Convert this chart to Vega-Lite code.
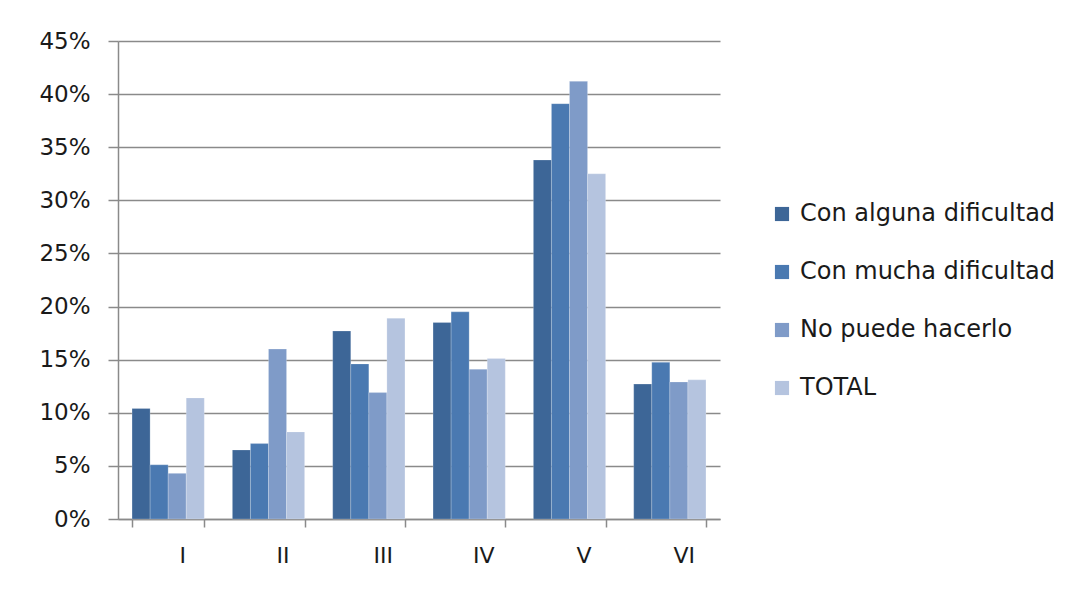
{
  "$schema": "https://vega.github.io/schema/vega-lite/v6.json",
  "autosize": {"type": "none"},
  "width": 602,
  "height": 478,
  "padding": {"left": 118, "top": 41, "right": 365, "bottom": 79},
  "background": "white",
  "data": {
    "values": [
      {"grupo": "I", "serie": "Con alguna dificultad", "valor": 0.104},
      {"grupo": "I", "serie": "Con mucha dificultad", "valor": 0.051},
      {"grupo": "I", "serie": "No puede hacerlo", "valor": 0.043},
      {"grupo": "I", "serie": "TOTAL", "valor": 0.114},
      {"grupo": "II", "serie": "Con alguna dificultad", "valor": 0.065},
      {"grupo": "II", "serie": "Con mucha dificultad", "valor": 0.071},
      {"grupo": "II", "serie": "No puede hacerlo", "valor": 0.160},
      {"grupo": "II", "serie": "TOTAL", "valor": 0.082},
      {"grupo": "III", "serie": "Con alguna dificultad", "valor": 0.177},
      {"grupo": "III", "serie": "Con mucha dificultad", "valor": 0.146},
      {"grupo": "III", "serie": "No puede hacerlo", "valor": 0.119},
      {"grupo": "III", "serie": "TOTAL", "valor": 0.189},
      {"grupo": "IV", "serie": "Con alguna dificultad", "valor": 0.185},
      {"grupo": "IV", "serie": "Con mucha dificultad", "valor": 0.195},
      {"grupo": "IV", "serie": "No puede hacerlo", "valor": 0.141},
      {"grupo": "IV", "serie": "TOTAL", "valor": 0.151},
      {"grupo": "V", "serie": "Con alguna dificultad", "valor": 0.338},
      {"grupo": "V", "serie": "Con mucha dificultad", "valor": 0.391},
      {"grupo": "V", "serie": "No puede hacerlo", "valor": 0.412},
      {"grupo": "V", "serie": "TOTAL", "valor": 0.325},
      {"grupo": "VI", "serie": "Con alguna dificultad", "valor": 0.127},
      {"grupo": "VI", "serie": "Con mucha dificultad", "valor": 0.1475},
      {"grupo": "VI", "serie": "No puede hacerlo", "valor": 0.129},
      {"grupo": "VI", "serie": "TOTAL", "valor": 0.131}
    ]
  },
  "mark": {"type": "bar", "stroke": "white", "strokeOpacity": 0.35, "strokeWidth": 0.6},
  "encoding": {
    "x": {
      "field": "grupo",
      "type": "nominal",
      "sort": ["I", "II", "III", "IV", "V", "VI"],
      "scale": {"paddingInner": 0.28, "paddingOuter": 0.14},
      "axis": {
        "title": null,
        "labelAngle": 0,
        "labelFont": "DejaVu Sans",
        "labelFontSize": 22,
        "labelColor": "#1a1a1a",
        "labelOffset": 14,
        "labelPadding": 18,
        "tickBand": "extent",
        "tickSize": 8,
        "tickColor": "#8a8a8a",
        "tickWidth": 1.5,
        "domainColor": "#8a8a8a",
        "domainWidth": 1.5,
        "grid": false
      }
    },
    "xOffset": {
      "field": "serie",
      "type": "nominal",
      "sort": ["Con alguna dificultad", "Con mucha dificultad", "No puede hacerlo", "TOTAL"],
      "scale": {"paddingInner": 0, "paddingOuter": 0}
    },
    "y": {
      "field": "valor",
      "type": "quantitative",
      "scale": {"domain": [0, 0.45], "nice": false},
      "axis": {
        "title": null,
        "format": ".0%",
        "values": [0, 0.05, 0.1, 0.15, 0.2, 0.25, 0.3, 0.35, 0.4, 0.45],
        "labelFont": "DejaVu Sans",
        "labelFontSize": 23,
        "labelColor": "#1a1a1a",
        "labelPadding": 18,
        "tickSize": 10,
        "tickColor": "#8a8a8a",
        "tickWidth": 1.5,
        "domainColor": "#8a8a8a",
        "domainWidth": 1.5,
        "grid": true,
        "gridColor": "#8a8a8a",
        "gridWidth": 1.5
      }
    },
    "color": {
      "field": "serie",
      "type": "nominal",
      "sort": ["Con alguna dificultad", "Con mucha dificultad", "No puede hacerlo", "TOTAL"],
      "scale": {
        "domain": ["Con alguna dificultad", "Con mucha dificultad", "No puede hacerlo", "TOTAL"],
        "range": ["#3D6697", "#4A79B1", "#7F9BC8", "#B5C4DF"]
      },
      "legend": {
        "title": null,
        "orient": "none",
        "legendX": 652,
        "legendY": 161,
        "symbolType": "square",
        "symbolSize": 200,
        "symbolStrokeWidth": 0,
        "labelFont": "DejaVu Sans",
        "labelFontSize": 24,
        "labelColor": "#1a1a1a",
        "labelOffset": 6,
        "rowPadding": 34,
        "labelLimit": 400
      }
    }
  },
  "config": {"view": {"stroke": null}}
}
